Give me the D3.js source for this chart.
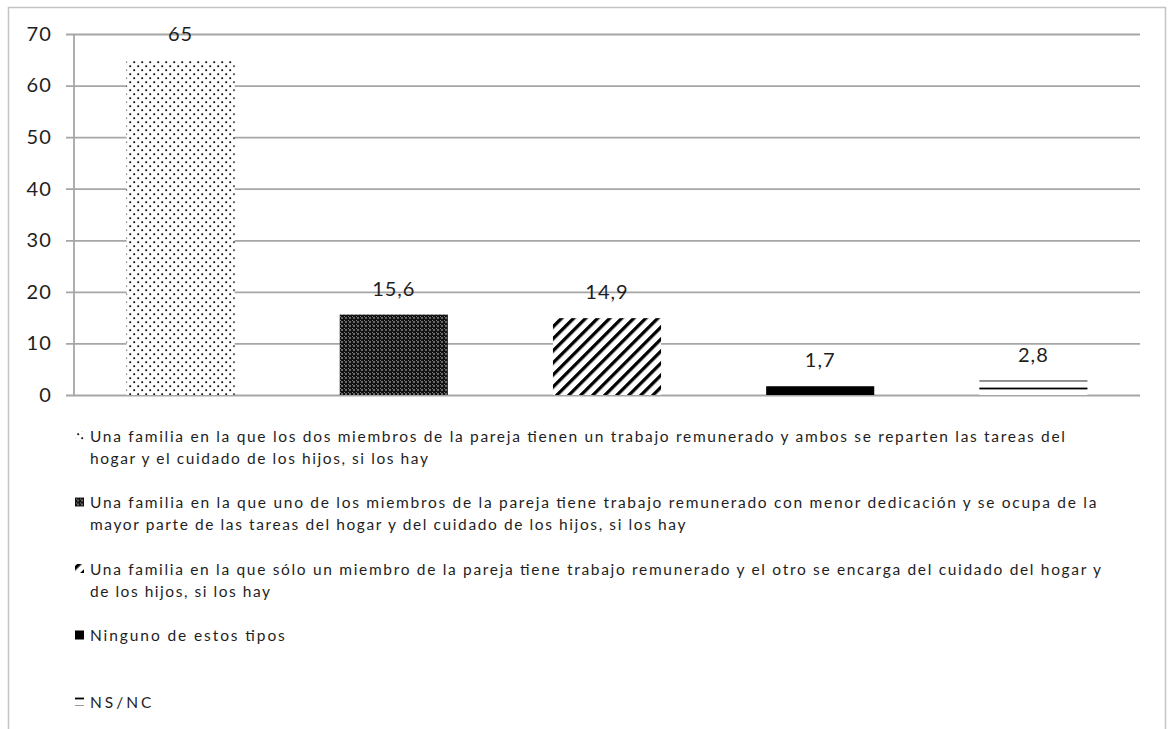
<!DOCTYPE html>
<html>
<head>
<meta charset="utf-8">
<script src="https://cdn.jsdelivr.net/npm/d3@7"></script>
<style>
  html, body { margin: 0; padding: 0; background: #fff; }
  svg { display: block; }
</style>
</head>
<body>
<svg id="chart" width="1171" height="729"></svg>
<script>
// ---- data ----
const categories = [
  "Una familia en la que los dos miembros de la pareja tienen un trabajo remunerado y ambos se reparten las tareas del\nhogar y el cuidado de los hijos, si los hay",
  "Una familia en la que uno de los miembros de la pareja tiene trabajo remunerado con menor dedicación y se ocupa de la\nmayor parte de las tareas del hogar y del cuidado de los hijos, si los hay",
  "Una familia en la que sólo un miembro de la pareja tiene trabajo remunerado y el otro se encarga del cuidado del hogar y\nde los hijos, si los hay",
  "Ninguno de estos tipos",
  "NS/NC"
];
const values = [65, 15.6, 14.9, 1.7, 2.8];
const valueLabels = ["65", "15,6", "14,9", "1,7", "2,8"];
const yTicks = [0, 10, 20, 30, 40, 50, 60, 70];
const patternIds = ["pDots", "pDark", "pStripes", "pSolid", "pLines"];

// ---- layout ----
const svg = d3.select("#chart");
const plot = { left: 74, right: 1140, top: 34, bottom: 395 };
const textColor = "#1e1e1e";
const gridColor = "#a6a6a6";
const fontFamily = "Lato, 'Open Sans', sans-serif";

// outer frame
svg.append("rect")
  .attr("x", 8.5).attr("y", 7.5)
  .attr("width", 1157).attr("height", 760)
  .attr("fill", "none").attr("stroke", "#c4c4c4").attr("stroke-width", 1.5);

const x = d3.scaleBand().domain(d3.range(categories.length))
  .range([plot.left, plot.right]).paddingInner(0.493).paddingOuter(0.2465);
const y = d3.scaleLinear().domain([0, 70]).range([plot.bottom, plot.top]);

// ---- patterns ----
const defs = svg.append("defs");
// sparse dots
const p1 = defs.append("pattern").attr("id", "pDots").attr("patternUnits", "userSpaceOnUse")
  .attr("width", 8).attr("height", 8);
p1.append("rect").attr("width", 8).attr("height", 8).attr("fill", "#fff");
p1.append("rect").attr("x", 1.3).attr("y", 1.3).attr("width", 1.8).attr("height", 1.8).attr("fill", "#111");
p1.append("rect").attr("x", 5.3).attr("y", 5.3).attr("width", 1.8).attr("height", 1.8).attr("fill", "#111");
// dark with white dots
const p2 = defs.append("pattern").attr("id", "pDark").attr("patternUnits", "userSpaceOnUse")
  .attr("width", 4).attr("height", 4);
p2.append("rect").attr("width", 4).attr("height", 4).attr("fill", "#111");
p2.append("rect").attr("x", 1.4).attr("y", 1.4).attr("width", 1.2).attr("height", 1.2).attr("fill", "#fff");
p2.append("rect").attr("x", 0).attr("y", 0).attr("width", 0.8).attr("height", 0.8).attr("fill", "#bbb");
// diagonal stripes
const p3 = defs.append("pattern").attr("id", "pStripes").attr("patternUnits", "userSpaceOnUse")
  .attr("width", 8.5).attr("height", 8.5).attr("patternTransform", "rotate(45)");
p3.append("rect").attr("width", 8.5).attr("height", 8.5).attr("fill", "#fff");
p3.append("rect").attr("x", 0).attr("y", 0).attr("width", 3.3).attr("height", 8.5).attr("fill", "#000");
// solid
const p4 = defs.append("pattern").attr("id", "pSolid").attr("patternUnits", "userSpaceOnUse")
  .attr("width", 18).attr("height", 9).attr("y", y(0));
p4.append("rect").attr("width", 18).attr("height", 9).attr("fill", "#000");
// horizontal lines
const p5 = defs.append("pattern").attr("id", "pLines").attr("patternUnits", "userSpaceOnUse")
  .attr("width", 8).attr("height", 8).attr("y", y(0));
p5.append("rect").attr("width", 8).attr("height", 8).attr("fill", "#fff");
p5.append("rect").attr("x", 0).attr("y", 0.6).attr("width", 8).attr("height", 1.8).attr("fill", "#000");

// ---- grid & axes ----
const yAxis = d3.axisLeft(y).tickValues(yTicks).tickSize(-(plot.right - plot.left)).tickSizeOuter(0).tickPadding(22);
const gy = svg.append("g").attr("transform", `translate(${plot.left},0)`).call(yAxis);
gy.select(".domain").remove();
gy.selectAll(".tick line").attr("stroke", gridColor).attr("stroke-width", 1.8).attr("x1", -8);
gy.selectAll(".tick text").attr("fill", textColor).attr("font-family", fontFamily)
  .attr("font-size", 20).attr("letter-spacing", 1.2);
svg.append("line").attr("x1", plot.left).attr("x2", plot.left)
  .attr("y1", plot.top).attr("y2", plot.bottom).attr("stroke", gridColor).attr("stroke-width", 1.8);

// ---- bars ----
svg.append("g").selectAll("rect").data(values).join("rect")
  .attr("x", (d, i) => x(i)).attr("width", x.bandwidth())
  .attr("y", d => y(d)).attr("height", d => y(0) - y(d))
  .attr("fill", (d, i) => `url(#${patternIds[i]})`);

// value labels
svg.append("g").selectAll("text").data(values).join("text")
  .attr("x", (d, i) => x(i) + x.bandwidth() / 2)
  .attr("y", d => y(d) - 19)
  .attr("text-anchor", "middle")
  .attr("font-family", fontFamily).attr("font-size", 20).attr("letter-spacing", 1)
  .attr("fill", textColor)
  .text((d, i) => valueLabels[i]);

// ---- legend ----
const legend = svg.append("g");
const legendX = 90, legendTop = 436, entryStep = 66.5, lineStep = 22;
const legendWidth = 975;
const items = legend.selectAll("g").data(categories).join("g")
  .attr("transform", (d, i) => `translate(0, ${legendTop + i * entryStep})`);
items.append("rect")
  .attr("x", 75).attr("y", -5).attr("width", 9).attr("height", 9)
  .attr("fill", (d, i) => `url(#${patternIds[i]})`);
const texts = [];
items.each(function(d) {
  const g = d3.select(this);
  d.split("\n").forEach((line, j) => {
    const t = g.append("text")
      .attr("x", legendX).attr("y", j * lineStep + 5.5)
      .attr("font-family", fontFamily).attr("font-size", 15.5)
      .attr("fill", textColor)
      .text(line);
    texts.push(t);
  });
});
// uniform spacing stretch to match original legend text width
const firstW = texts[0].node().getComputedTextLength();
const k = legendWidth / firstW;
texts.forEach(t => {
  const w = t.node().getComputedTextLength();
  t.attr("textLength", w * k).attr("lengthAdjust", "spacing");
});
</script>
</body>
</html>
